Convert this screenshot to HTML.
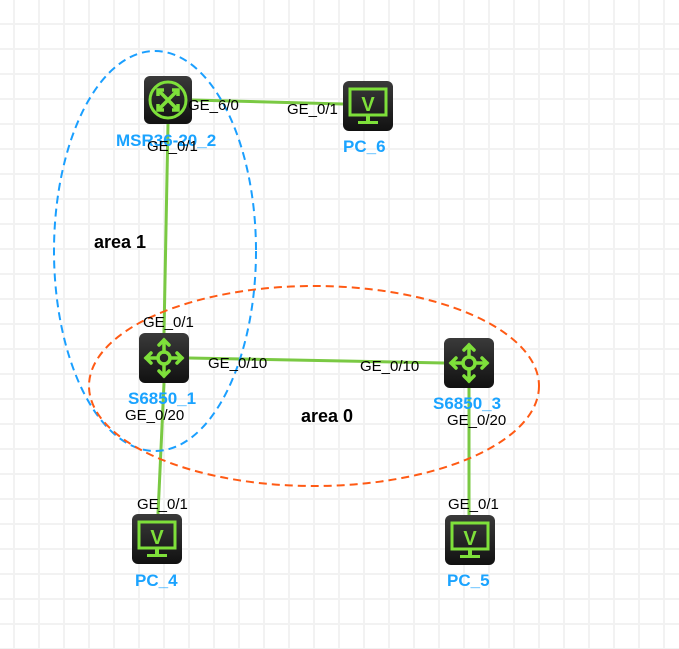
<!DOCTYPE html>
<html><head><meta charset="utf-8"><style>
html,body{margin:0;padding:0;background:#fff;}
svg{display:block;}
text{font-family:"Liberation Sans",sans-serif;}
.p{font-size:15px;fill:#000;}
.n{font-size:17px;font-weight:bold;fill:#1aa3ff;}
</style></head><body>
<svg width="679" height="649" viewBox="0 0 679 649" xmlns="http://www.w3.org/2000/svg">
<defs>
<pattern id="g" width="25" height="25" patternUnits="userSpaceOnUse" x="13" y="23">
<rect width="25" height="25" fill="#fff"/>
<rect x="0" y="0" width="2" height="25" fill="#f2f2f2"/>
<rect x="0" y="0" width="25" height="2" fill="#f2f2f2"/>
</pattern>
<linearGradient id="bg" x1="0" y1="0" x2="0" y2="1"><stop offset="0" stop-color="#3a3a3a"/><stop offset="1" stop-color="#111"/></linearGradient>
<g id="sw">
<rect x="0" y="0" width="50" height="50" rx="6" fill="url(#bg)"/>
<g stroke="#7ee03a" stroke-width="3.5" fill="none" stroke-linecap="round">
<circle cx="25" cy="25" r="6"/>
<line x1="25" y1="19" x2="25" y2="7"/><line x1="25" y1="31" x2="25" y2="43"/>
<line x1="19" y1="25" x2="7" y2="25"/><line x1="31" y1="25" x2="43" y2="25"/>
<polyline points="20,12 25,7 30,12"/><polyline points="20,38 25,43 30,38"/>
<polyline points="12,20 7,25 12,30"/><polyline points="38,20 43,25 38,30"/>
</g></g>
<g id="pc">
<rect x="0" y="0" width="50" height="50" rx="6" fill="url(#bg)"/>
<rect x="7" y="8" width="36" height="26" fill="none" stroke="#7ee03a" stroke-width="3"/>
<text x="25" y="30" text-anchor="middle" font-size="20" font-weight="bold" fill="#7ee03a" font-family="Liberation Sans,sans-serif">V</text>
<rect x="23" y="34" width="4" height="6" fill="#7ee03a"/>
<rect x="15" y="40" width="20" height="3" fill="#7ee03a"/>
</g>
<g id="rt">
<rect x="0" y="0" width="48" height="48" rx="6" fill="url(#bg)"/>
<circle cx="24" cy="24" r="18" fill="none" stroke="#7ee03a" stroke-width="3"/>
<g stroke="#7ee03a" stroke-width="3.5" fill="none">
<line x1="15" y1="15" x2="33" y2="33"/><line x1="33" y1="15" x2="15" y2="33"/>
<polyline points="14,20 14,14 20,14"/><polyline points="28,34 34,34 34,28"/>
<polyline points="28,14 34,14 34,20"/><polyline points="14,28 14,34 20,34"/>
</g></g>
</defs>
<rect width="679" height="649" fill="url(#g)"/>
<g stroke="#7ac943" stroke-width="3">
<line x1="192" y1="100" x2="343" y2="104"/>
<line x1="168" y1="124" x2="164" y2="333"/>
<line x1="189" y1="358" x2="444" y2="363"/>
<line x1="164" y1="383" x2="158" y2="514"/>
<line x1="469" y1="388" x2="469" y2="515"/>
</g>
<ellipse cx="155" cy="251" rx="101" ry="200" fill="none" stroke="#1a9fff" stroke-width="2" stroke-dasharray="8,5"/>
<ellipse cx="314" cy="386" rx="225" ry="100" fill="none" stroke="#ff5a14" stroke-width="2" stroke-dasharray="8,5"/>
<use href="#rt" x="144" y="76"/>
<use href="#pc" x="343" y="81"/>
<use href="#sw" x="139" y="333"/>
<use href="#sw" x="444" y="338"/>
<use href="#pc" x="132" y="514"/>
<use href="#pc" x="445" y="515"/>
<text class="n" x="116" y="146">MSR36-20_2</text>
<text class="n" x="343" y="152">PC_6</text>
<text class="n" x="128" y="404">S6850_1</text>
<text class="n" x="433" y="409">S6850_3</text>
<text class="n" x="135" y="586">PC_4</text>
<text class="n" x="447" y="586">PC_5</text>
<text class="p" x="188" y="110">GE_6/0</text>
<text class="p" x="287" y="114">GE_0/1</text>
<text class="p" x="147" y="151">GE_0/1</text>
<text class="p" x="143" y="327">GE_0/1</text>
<text class="p" x="208" y="368">GE_0/10</text>
<text class="p" x="360" y="371">GE_0/10</text>
<text class="p" x="125" y="420">GE_0/20</text>
<text class="p" x="447" y="425">GE_0/20</text>
<text class="p" x="137" y="509">GE_0/1</text>
<text class="p" x="448" y="509">GE_0/1</text>
<text x="94" y="248" font-size="18" font-weight="bold">area 1</text>
<text x="301" y="422" font-size="18" font-weight="bold">area 0</text>
</svg>
</body></html>
